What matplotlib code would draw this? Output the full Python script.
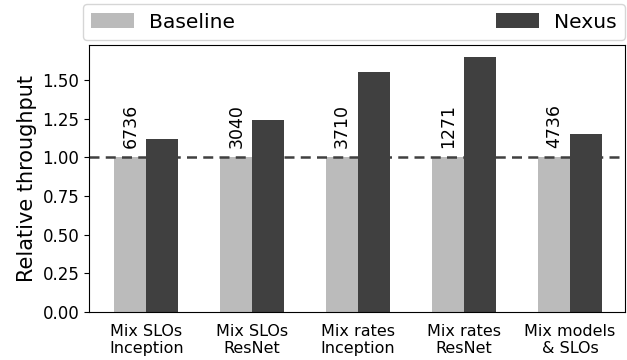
import matplotlib
matplotlib.use("Agg")
import matplotlib.pyplot as plt
import numpy as np

categories = ["Mix SLOs\nInception", "Mix SLOs\nResNet", "Mix rates\nInception", "Mix rates\nResNet", "Mix models\n& SLOs"]
baseline = [1.0, 1.0, 1.0, 1.0, 1.0]
nexus = [1.12, 1.24, 1.55, 1.65, 1.15]
baseline_abs = ["6736", "3040", "3710", "1271", "4736"]

fig = plt.figure(figsize=(6.27, 3.6), dpi=100)
ax = fig.add_axes([89/627, 1-312/360, (625-89)/627, (312-45)/360])

x = np.arange(len(categories))
w = 0.3
ax.bar(x - w/2, baseline, w, color="#bbbbbb", label="Baseline")
ax.bar(x + w/2, nexus, w, color="#404040", label="Nexus")
ax.axhline(1.0, color="#404040", linestyle="--", linewidth=1.8, dashes=(4, 2.5))
for xi, t in zip(x, baseline_abs):
    ax.text(xi - w/2, 1.06, t, rotation=90, ha="center", va="bottom", fontsize=12.5)

ax.set_xlim(-0.54, 4.52)
ax.set_ylim(0, 1.727)
ax.set_yticks([0, 0.25, 0.5, 0.75, 1.0, 1.25, 1.5])
ax.set_yticklabels(["0.00", "0.25", "0.50", "0.75", "1.00", "1.25", "1.50"], fontsize=12)
ax.set_xticks(x)
ax.set_xticklabels(categories, fontsize=11.5, linespacing=1.15)
ax.tick_params(axis="x", length=0, pad=9)
ax.set_ylabel("Relative throughput", fontsize=15)
leg = ax.legend(loc="lower left", bbox_to_anchor=(-0.011, 1.02, 1.011, 0.1), mode="expand", ncol=2,
                fontsize=14.6, borderaxespad=0, handlelength=2.1, handletextpad=0.75,
                borderpad=0.4, frameon=True)
leg._legend_box.align = "left"

fig.savefig("out.png", dpi=100)
